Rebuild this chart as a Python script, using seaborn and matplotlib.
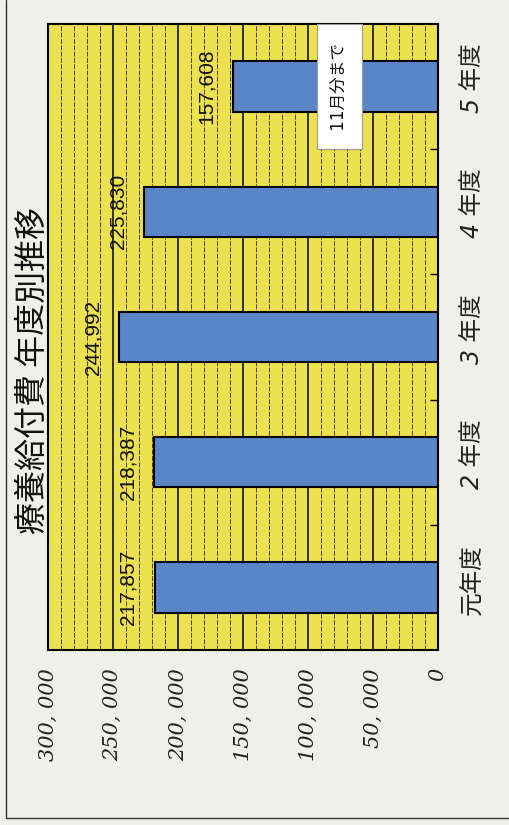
import matplotlib.pyplot as plt
import numpy as np
import pandas as pd
import seaborn as sns
from matplotlib.lines import Line2D
from matplotlib.ticker import FixedLocator, FuncFormatter, MultipleLocator
from matplotlib.transforms import ScaledTranslation

years = ["元年度", "2 年度", "3 年度", "4 年度", "5 年度"]
costs = [217857, 218387, 244992, 225830, 157608]
value_max = 300000
title = "療養給付費 年度別推移"
note = "11月分まで"
note_year = "5 年度"

df = pd.DataFrame({"year": years, "cost": costs})

sns.set_theme(style="white")
plt.rcParams["font.family"] = ["DejaVu Sans", "Noto Sans CJK JP"]

fig = plt.figure(figsize=(5.1, 8.25), dpi=100)
fig.patch.set_facecolor("#f0f0eb")
ax = fig.add_axes([0.094, 0.212, 0.765, 0.759])
ax.set_facecolor("#ece14e")

# chart is printed rotated: bars run right-to-left, 5年度 on top
order = years[::-1]
sns.barplot(
    data=df, x="cost", y="year", order=order, orient="h", width=0.4,
    color="#5a86c8", edgecolor="black", linewidth=1.5, saturation=1, ax=ax,
)

ax.set_xlim(value_max, 0)
ax.xaxis.set_major_locator(MultipleLocator(50000))
ax.xaxis.set_minor_locator(MultipleLocator(10000))
ax.xaxis.set_major_formatter(FuncFormatter(lambda v, p: f"{int(v):,}".replace(",", ", ")))
ax.grid(False)
ax.grid(which="major", axis="x", color="black", lw=1.1)
ax.grid(which="minor", axis="x", color="#4a4228", lw=0.7, ls=(0, (5, 1.5)))
ax.set_axisbelow(True)

ax.tick_params(axis="x", which="both", bottom=True, length=0, pad=13, labelrotation=90)
for lbl in ax.get_xticklabels():
    lbl.set_fontfamily("DejaVu Serif")
    lbl.set_fontstyle("italic")
    lbl.set_fontsize(15)
    lbl.set_color("#222222")

# categories on the right edge, small inward ticks between them
ax.yaxis.tick_right()
ax.yaxis.set_minor_locator(FixedLocator(np.arange(len(years) - 1) + 0.5))
ax.tick_params(axis="y", which="major", length=0, pad=16, labelrotation=90, labelsize=17)
ax.tick_params(axis="y", which="minor", left=False, right=True, direction="in",
               length=6, width=1, color="black")
shift = ScaledTranslation(0, 6 / 72, fig.dpi_scale_trans)
for lbl in ax.get_yticklabels():
    lbl.set_fontstyle("italic")
    lbl.set_va("center")
    lbl.set_color("#222222")
    lbl.set_transform(lbl.get_transform() + shift)

ax.set_xlabel("")
ax.set_ylabel("")
for s in ax.spines.values():
    s.set_visible(True)
    s.set_color("black")
    s.set_linewidth(1.5)

# value labels just beyond the bar ends
for yr, v in zip(years, costs):
    ax.annotate(f"{v:,}", xy=(v, order.index(yr)), xytext=(-19, 0),
                textcoords="offset points", rotation=90, ha="center", va="center",
                fontsize=15, family="Liberation Sans", color="#111111")

ax.text(76000, order.index(note_year), f" {note} ", rotation=90, ha="center", va="center",
        fontsize=12, family=["DejaVu Sans", "Noto Sans CJK JP"], color="#111111",
        bbox=dict(boxstyle="square,pad=0.8", fc="white", ec="#9a9a9a", lw=0.8), zorder=5)

ax.text(-0.038, 0.447, title, transform=ax.transAxes, rotation=90, ha="center",
        va="center", fontsize=23, family=["Noto Sans CJK JP"], color="#111111")

# clipping frame of the printed page
fig.add_artist(Line2D([0.012, 0.012], [0.0085, 1], color="#333333", lw=1))
fig.add_artist(Line2D([0.012, 1], [0.0085, 0.0085], color="#333333", lw=1))

fig.savefig("out.png", dpi=100, facecolor=fig.get_facecolor())
